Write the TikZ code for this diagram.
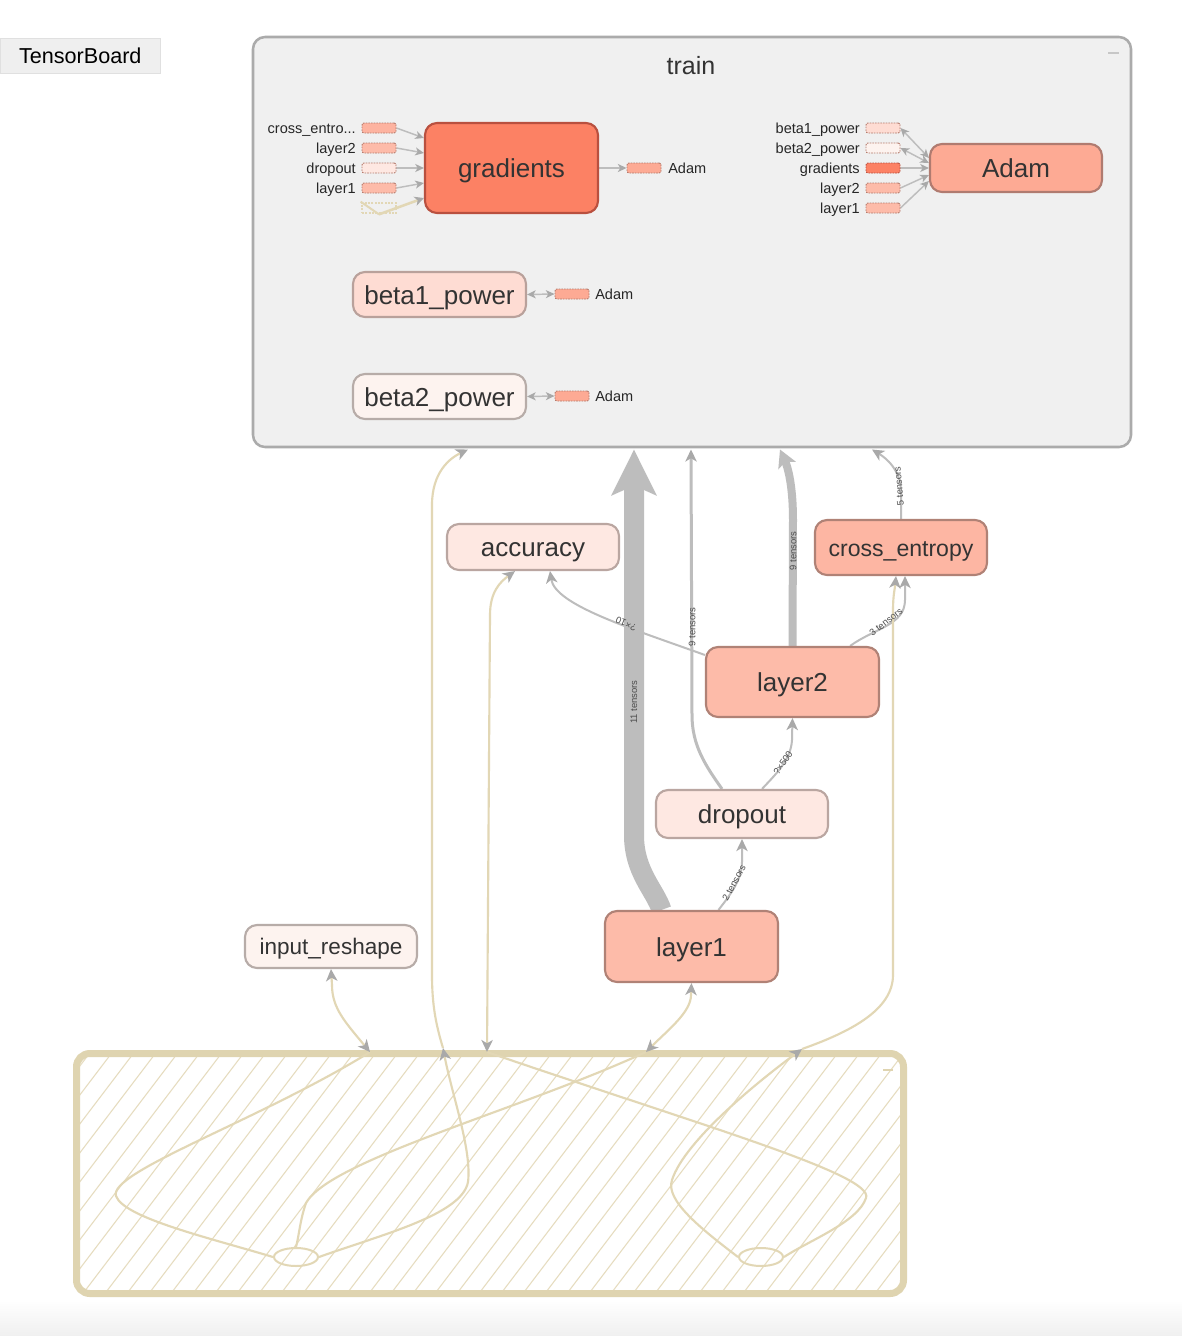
\documentclass[tikz,border=0pt]{standalone}
\usepackage{fontspec}
\setmainfont{Liberation Sans}
\usetikzlibrary{arrows.meta,shapes.geometric,calc,shadows}
\definecolor{txt}{HTML}{333333}
\definecolor{btnfill}{HTML}{EFEFEF}
\definecolor{trainfill}{HTML}{F0F0F0}
\definecolor{trainborder}{HTML}{ABABAB}
\definecolor{gradfill}{HTML}{FC8164}
\definecolor{gradborder}{HTML}{B9503F}
\definecolor{adamfill}{HTML}{FDAA94}
\definecolor{adamborder}{HTML}{B07B70}
\definecolor{midfill}{HTML}{FDBBA9}
\definecolor{cefill}{HTML}{FDB6A3}
\definecolor{midborder}{HTML}{B08276}
\definecolor{ltfill}{HTML}{FEDCD3}
\definecolor{ltborder}{HTML}{B9A19B}
\definecolor{palefill}{HTML}{FEE8E2}
\definecolor{paleborder}{HTML}{BAA6A1}
\definecolor{vpalefill}{HTML}{FDF3EF}
\definecolor{vpaleborder}{HTML}{B7ACA8}
\definecolor{stubA}{HTML}{FDB3A0}
\definecolor{edgegray}{HTML}{BDBDBD}
\definecolor{arrowgray}{HTML}{A9A9A9}
\definecolor{beige}{HTML}{E2D7B5}
\definecolor{beigebox}{HTML}{DFD4B0}
\definecolor{hatchc}{HTML}{E6DCBF}
\definecolor{stubborder}{HTML}{B47A6C}
\definecolor{elabelc}{HTML}{4D4D4D}
\pgfdeclarelayer{bg}
\pgfdeclarelayer{edgelayer}
\pgfsetlayers{bg,edgelayer,main}
\tikzset{
 tbn/.style={draw, rounded corners=9pt, line width=1.6pt, text=txt, inner sep=0pt, text height=14.6pt, text depth=0pt, font=\fontsize{19.5}{22}\selectfont},
 stubbox/.style={draw=stubborder, dash pattern=on 1.2pt off 0.8pt, line width=0.7pt, rounded corners=1.5pt, minimum width=25.5pt, minimum height=7.5pt, inner sep=0pt},
 slabel/.style={font=\fontsize{10.9}{12}\selectfont, text=black!85, inner sep=0pt, text height=8pt, text depth=0pt, anchor=east},
 elabel/.style={font=\fontsize{7.1}{8}\selectfont, text=elabelc, inner sep=0.5pt},
 ge/.style={draw=edgegray, line width=1.5pt, -{Stealth[length=9pt,width=8.5pt,inset=2.5pt,color=arrowgray]}},
 se/.style={draw=edgegray, line width=1.1pt, -{Stealth[length=6.5pt,width=6pt,inset=1.8pt,color=arrowgray]}},
 sbe/.style={draw=edgegray, line width=1.1pt, {Stealth[length=6.5pt,width=6pt,inset=1.8pt,color=arrowgray]}-{Stealth[length=6.5pt,width=6pt,inset=1.8pt,color=arrowgray]}},
 be/.style={draw=beige, line width=1.6pt},
 beend/.style={be, -{Stealth[length=9pt,width=8.5pt,inset=2.5pt,color=arrowgray]}},
 beboth/.style={be, {Stealth[length=9pt,width=8.5pt,inset=2.5pt,color=arrowgray]}-{Stealth[length=9pt,width=8.5pt,inset=2.5pt,color=arrowgray]}},
}
\begin{document}
\begin{tikzpicture}[x=0.75pt,y=-0.75pt]
\useasboundingbox (0,0) rectangle (1182,1336);
\begin{pgfonlayer}{bg}
\fill[white] (0,0) rectangle (1182,1336);
\shade[top color=white, bottom color=black!6] (0,1300) rectangle (1182,1336);
% train group
\node[draw=trainborder, fill=trainfill, line width=1.9pt, rounded corners=9pt, minimum width=658.5pt, minimum height=307.5pt, inner sep=0pt, outer sep=0pt, anchor=north west] (train) at (253,37) {};
% auxiliary hatched group
\begin{scope}
\clip[rounded corners=8pt] (76.5,1053.5) rectangle (903.5,1293.5);
\fill[white] (76.5,1053.5) rectangle (903.5,1293.5);
\foreach \i in {0,...,48} \draw[hatchc, line width=0.8pt] ({-120+22*\i},1300) -- ++(190,-250);
\end{scope}
\draw[beigebox, line width=5.25pt, rounded corners=10pt] (76.5,1053.5) rectangle (903.5,1293.5);
\draw[beigebox, line width=1.5pt] (883,1070) -- (893,1070);
\end{pgfonlayer}

\node[draw=black!12, fill=btnfill, drop shadow={opacity=0.18,shadow xshift=0.6pt,shadow yshift=-0.9pt}, minimum width=120pt, minimum height=26.25pt, inner sep=0pt, text height=12pt, text depth=0pt, anchor=north west, font=\fontsize{16.2}{18}\selectfont] (tbbtn) at (0,38) {TensorBoard};

\node[font=\fontsize{18.75}{20}\selectfont, text=txt, text height=14pt, text depth=0pt, inner sep=0pt] (traintitle) at (691,65) {train};
\draw[black!22, line width=1.5pt] (1108,53) -- (1119,53);

\coordinate (tr1) at (468,449.5);
\coordinate (tr2) at (634,449.5);
\coordinate (tr3) at (691,449.5);
\coordinate (tr4) at (780,449.5);
\coordinate (tr5) at (872,449.5);

% nodes inside train
\node[tbn, fill=gradfill, draw=gradborder, minimum width=129.75pt, minimum height=67.5pt] (grad) at (511.5,168) {gradients};
\node[tbn, fill=adamfill, draw=adamborder, minimum width=129pt, minimum height=36pt] (adam) at (1016,168) {Adam};
\node[tbn, fill=ltfill, draw=ltborder, minimum width=129.75pt, minimum height=33.75pt] (b1) at (439.5,294.5) {beta1\_power};
\node[tbn, fill=vpalefill, draw=vpaleborder, minimum width=129.75pt, minimum height=33.75pt] (b2) at (439.5,396.5) {beta2\_power};

% gradients input stubs
\node[stubbox, fill=stubA] (gs1) at (379,128) {};
\node[stubbox, fill=midfill] (gs2) at (379,148) {};
\node[stubbox, fill=palefill] (gs3) at (379,168) {};
\node[stubbox, fill=midfill] (gs4) at (379,188) {};
\node[draw=beige, dash pattern=on 1.5pt off 1pt, line width=2pt, minimum width=25.5pt, minimum height=7.5pt, inner sep=0pt] (gs5) at (379,208) {};
\node[slabel] (gl1) at (356,128) {cross\_entro...};
\node[slabel] (gl2) at (356,148) {layer2};
\node[slabel] (gl3) at (356,168) {dropout};
\node[slabel] (gl4) at (356,188) {layer1};
\node[stubbox, fill=adamfill] (gout) at (644,168) {};
\node[slabel, anchor=west] (goutl) at (668,168) {Adam};

% Adam input stubs
\node[stubbox, fill=ltfill] (as1) at (883,128) {};
\node[stubbox, fill=vpalefill] (as2) at (883,148) {};
\node[stubbox, fill=gradfill, draw=gradborder] (as3) at (883,168) {};
\node[stubbox, fill=midfill] (as4) at (883,188) {};
\node[stubbox, fill=midfill] (as5) at (883,208) {};
\node[slabel] (al1) at (860,128) {beta1\_power};
\node[slabel] (al2) at (860,148) {beta2\_power};
\node[slabel] (al3) at (860,168) {gradients};
\node[slabel] (al4) at (860,188) {layer2};
\node[slabel] (al5) at (860,208) {layer1};

% beta stubs
\node[stubbox, fill=adamfill] (b1s) at (572,294) {};
\node[slabel, anchor=west] (b1l) at (595,294) {Adam};
\node[stubbox, fill=adamfill] (b2s) at (572,396) {};
\node[slabel, anchor=west] (b2l) at (595,396) {Adam};

% main nodes
\node[tbn, fill=palefill, draw=paleborder, minimum width=129pt, minimum height=34.5pt] (acc) at (533,547) {accuracy};
\node[tbn, fill=cefill, draw=midborder, minimum width=129pt, minimum height=41.25pt, font=\fontsize{17.3}{20}\selectfont, text height=13pt] (ce) at (901,547.5) {cross\_entropy};
\node[tbn, fill=midfill, draw=midborder, minimum width=129.75pt, minimum height=52.5pt] (l2) at (792.5,682) {layer2};
\node[tbn, fill=palefill, draw=paleborder, minimum width=129pt, minimum height=36pt] (dr) at (742,814) {dropout};
\node[tbn, fill=midfill, draw=midborder, minimum width=129.75pt, minimum height=53.25pt] (l1) at (691.5,946.5) {layer1};
\node[tbn, fill=vpalefill, draw=vpaleborder, minimum width=129pt, minimum height=32.25pt, font=\fontsize{16.9}{19}\selectfont, text height=12.7pt] (ir) at (331,946.5) {input\_reshape};

% auxiliary ellipses and box-top points
\node[ellipse, draw=beige, line width=1.5pt, minimum width=33pt, minimum height=13.5pt, inner sep=0pt] (e1) at (296,1257) {};
\node[ellipse, draw=beige, line width=1.5pt, minimum width=33pt, minimum height=13.5pt, inner sep=0pt] (e2) at (761,1257) {};
\coordinate (tA) at (370,1052);
\coordinate (tC) at (443,1048);
\coordinate (tD) at (487,1052);
\coordinate (tB) at (646,1052);
\coordinate (tE) at (802,1049);

\begin{pgfonlayer}{edgelayer}
% stub edges in train
\draw[se] (gs1.east) -- ($(grad.west)+(0,-30)$);
\draw[se] (gs2.east) -- ($(grad.west)+(0,-15)$);
\draw[se] (gs3.east) -- (grad.west);
\draw[se] (gs4.east) -- ($(grad.west)+(0,15)$);
\draw[beige, line width=1.5pt] (gs5.north west) -- (gs5.south);
\draw[beige, line width=1.9pt, -{Stealth[length=7pt,width=7pt,inset=2pt,color=arrowgray]}] (gs5.south) -- ($(grad.west)+(0,30)$);
\draw[se] (grad.east) -- (gout.west);
\draw[sbe] (as1.east) -- ($(adam.west)+(0,-10)$);
\draw[sbe] (as2.east) -- ($(adam.west)+(0,-5)$);
\draw[se] (as3.east) -- (adam.west);
\draw[se] (as4.east) -- ($(adam.west)+(0,7)$);
\draw[se] (as5.east) -- ($(adam.west)+(0,13)$);
\draw[sbe] (b1.east) -- (b1s.west);
\draw[sbe] (b2.east) -- (b2s.west);

% gray edges
\draw[draw=edgegray, line width=15pt, -{Stealth[length=34pt,width=33pt,inset=7pt,color=edgegray]}] ($(l1.north)+(-30,0)$) .. controls (655,890) and (634,872) .. (634,835) -- (tr2);
\draw[ge, line width=6pt, -{Stealth[length=13pt,width=14pt,inset=3pt,color=edgegray]}] (l2.north) -- (793,520) .. controls (793,490) and (789,470) .. (tr4);
\draw[ge, line width=2.25pt] ($(dr.north)+(-20,0)$) .. controls (705,765) and (692,745) .. (692,715) -- (tr3);
\draw[ge] ($(dr.north)+(20,0)$) .. controls (775,775) and (791,760) .. (792,740) -- (l2.south);
\draw[ge] ($(l1.north)+(27,0)$) .. controls (730,895) and (742,880) .. (742,862) -- (dr.south);
\draw[ge] ($(l2.west)+(0,-27)$) .. controls (630,628) and (555,605) .. ($(acc.south)+(17,0)$);
\draw[ge] ($(l2.north east)+(-30,0)$) .. controls (875,628) and (905,625) .. (905,600) -- ($(ce.south)+(4,0)$);
\draw[ge] (ce.north) -- (901,492) .. controls (901,470) and (886,458) .. (tr5);

% beige edges inside aux box
\draw[be] (tA) .. controls (260,1120) and (108,1172) .. (116,1196) .. controls (124,1218) and (210,1238) .. (e1.west);
\draw[be] (tB) .. controls (520,1110) and (330,1160) .. (306,1203) .. controls (300,1220) and (299,1236) .. (e1.north);
\draw[beend] (e1.east) .. controls (380,1235) and (462,1215) .. (468,1182) .. controls (472,1150) and (452,1095) .. (tC);
\draw[be] (tD) .. controls (700,1125) and (875,1175) .. (866,1198) .. controls (858,1222) and (810,1240) .. (e2.east);
\draw[beend] (e2.west) .. controls (700,1228) and (665,1200) .. (672,1180) .. controls (685,1140) and (760,1080) .. (tE);
% beige edges outside
\draw[beboth] (tA) .. controls (345,1022) and (332,1008) .. (332,985) -- (ir.south);
\draw[beboth] (tB) .. controls (668,1030) and (691,1012) .. (691,995) -- (l1.south);
\draw[beend] (tC) .. controls (436,1025) and (432,1005) .. (432,975) -- (432,505) .. controls (432,472) and (450,458) .. (tr1);
\draw[beboth] (tD) -- (490,615) .. controls (490,592) and (500,582) .. ($(acc.south)+(-18,0)$);
\draw[beend] (tE) .. controls (850,1032) and (893,1010) .. (893,975) -- (893,610) .. controls (893,595) and (895,588) .. ($(ce.south)+(-5,0)$);
\end{pgfonlayer}

% edge labels
\node[elabel, rotate=90] (lab11) at (634,702) {11 tensors};
\node[elabel, rotate=90] (lab9a) at (692,627) {9 tensors};
\node[elabel, rotate=90] (lab9b) at (793,551) {9 tensors};
\node[elabel, rotate=95] (lab5) at (899,486) {5 tensors};
\node[elabel, rotate=38] (lab3) at (886,622) {3 tensors};
\node[elabel, rotate=157] (lab10) at (626,624) {?×10};
\node[elabel, rotate=56] (lab500) at (783,763) {?×500};
\node[elabel, rotate=62] (lab2) at (734,883) {2 tensors};
\end{tikzpicture}
\end{document}
